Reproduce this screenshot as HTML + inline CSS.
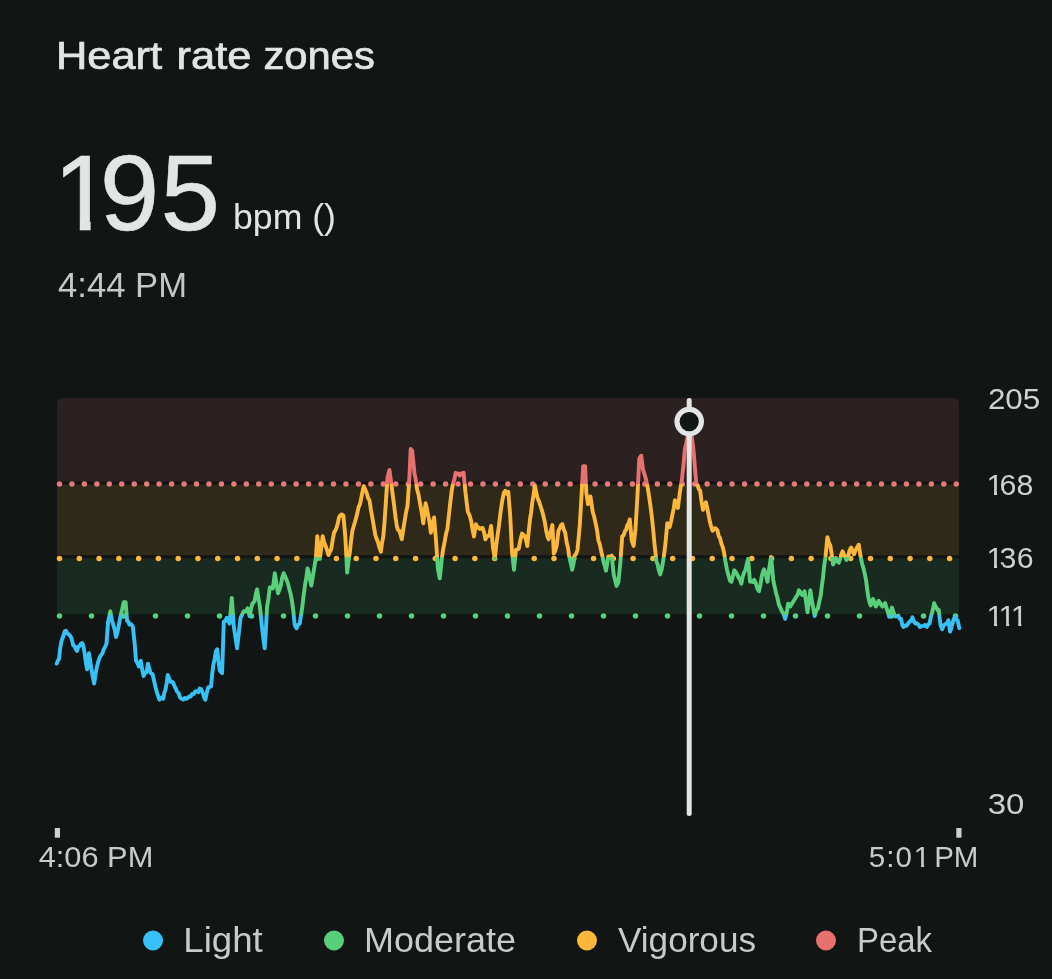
<!DOCTYPE html>
<html><head><meta charset="utf-8"><title>Heart rate zones</title>
<style>
html,body{margin:0;padding:0;background:#111514;}
body{width:1052px;height:979px;overflow:hidden;font-family:"Liberation Sans",sans-serif;}
svg{display:block;position:absolute;left:0;top:0;}
text{font-family:"Liberation Sans",sans-serif;}
</style></head><body>
<svg width="1052" height="979" viewBox="0 0 1052 979">
<defs>
<linearGradient id="zg" gradientUnits="userSpaceOnUse" x1="0" y1="398" x2="0" y2="816">
<stop offset="0" stop-color="#e8706f"/>
<stop offset="0.2057" stop-color="#e8706f"/>
<stop offset="0.2057" stop-color="#fdb73a"/>
<stop offset="0.3804" stop-color="#fdb73a"/>
<stop offset="0.3804" stop-color="#58cf7b"/>
<stop offset="0.5203" stop-color="#58cf7b"/>
<stop offset="0.5203" stop-color="#37c2f7"/>
<stop offset="1" stop-color="#37c2f7"/>
</linearGradient>
<clipPath id="cp"><rect x="57" y="398" width="902" height="240" rx="5.5" ry="5.5"/></clipPath>
<clipPath id="c195"><rect x="0" y="123.30" width="1052" height="97.80"/><rect x="79.78" y="220.10" width="10.84" height="21.40"/><rect x="0.00" y="220.10" width="60.00" height="37.45"/><rect x="108.40" y="220.10" width="943.60" height="37.45"/></clipPath><clipPath id="c168"><rect x="0" y="464.30" width="1052" height="26.33"/><rect x="994.02" y="489.63" width="3.07" height="6.06"/><rect x="0.00" y="489.63" width="987.87" height="10.61"/><rect x="1002.69" y="489.63" width="49.31" height="10.61"/></clipPath><clipPath id="c136"><rect x="0" y="538.10" width="1052" height="26.33"/><rect x="994.02" y="563.43" width="3.07" height="6.06"/><rect x="0.00" y="563.43" width="987.87" height="10.61"/><rect x="1002.69" y="563.43" width="49.31" height="10.61"/></clipPath><clipPath id="c111"><rect x="0" y="596.00" width="1052" height="26.33"/><rect x="994.02" y="621.33" width="3.07" height="6.06"/><rect x="1006.12" y="621.33" width="3.07" height="6.06"/><rect x="1018.22" y="621.33" width="3.07" height="6.06"/><rect x="0.00" y="621.33" width="987.87" height="10.61"/><rect x="1026.89" y="621.33" width="25.11" height="10.61"/></clipPath><clipPath id="c501"><rect x="0" y="837.90" width="1052" height="25.59"/><rect x="921.12" y="862.49" width="3.00" height="5.90"/><rect x="0.00" y="862.49" width="915.11" height="10.32"/><rect x="929.59" y="862.49" width="122.41" height="10.32"/></clipPath></defs>
<rect width="1052" height="979" fill="#111514"/>
<!-- header -->
<text y="69.2" font-size="38.8" fill="#e3e5e4" stroke="#e3e5e4" stroke-width="0.7"><tspan x="55.9" textLength="106.2" lengthAdjust="spacingAndGlyphs">Heart</tspan> <tspan x="176.5" textLength="74.9" lengthAdjust="spacingAndGlyphs">rate</tspan> <tspan x="263.5" textLength="111.4" lengthAdjust="spacingAndGlyphs">zones</tspan></text>
<g font-size="107" fill="#e3e5e4" stroke="#e3e5e4" stroke-width="0.6">
<text x="53.2 99.7 160.4" y="230.3" clip-path="url(#c195)">195</text>
</g>
<text x="233" y="229.2" font-size="35" fill="#e3e5e4" textLength="103" lengthAdjust="spacingAndGlyphs">bpm ()</text>
<text x="58" y="297" font-size="34.5" fill="#c3c7c5" textLength="129" lengthAdjust="spacingAndGlyphs">4:44 PM</text>
<!-- zones -->
<g clip-path="url(#cp)">
<rect x="57" y="398" width="902" height="83.5" fill="#2b2120"/>
<rect x="57" y="484.5" width="902" height="70.8" fill="#2e2918"/>
<rect x="57" y="558.4" width="902" height="55.8" fill="#192b21"/>
</g>
<g fill="#e8787a"><circle cx="59.50" cy="484.1" r="2.75"/><circle cx="71.95" cy="484.1" r="2.75"/><circle cx="84.41" cy="484.1" r="2.75"/><circle cx="96.86" cy="484.1" r="2.75"/><circle cx="109.32" cy="484.1" r="2.75"/><circle cx="121.77" cy="484.1" r="2.75"/><circle cx="134.23" cy="484.1" r="2.75"/><circle cx="146.69" cy="484.1" r="2.75"/><circle cx="159.14" cy="484.1" r="2.75"/><circle cx="171.60" cy="484.1" r="2.75"/><circle cx="184.05" cy="484.1" r="2.75"/><circle cx="196.51" cy="484.1" r="2.75"/><circle cx="208.96" cy="484.1" r="2.75"/><circle cx="221.42" cy="484.1" r="2.75"/><circle cx="233.87" cy="484.1" r="2.75"/><circle cx="246.33" cy="484.1" r="2.75"/><circle cx="258.78" cy="484.1" r="2.75"/><circle cx="271.24" cy="484.1" r="2.75"/><circle cx="283.69" cy="484.1" r="2.75"/><circle cx="296.15" cy="484.1" r="2.75"/><circle cx="308.60" cy="484.1" r="2.75"/><circle cx="321.06" cy="484.1" r="2.75"/><circle cx="333.51" cy="484.1" r="2.75"/><circle cx="345.96" cy="484.1" r="2.75"/><circle cx="358.42" cy="484.1" r="2.75"/><circle cx="370.87" cy="484.1" r="2.75"/><circle cx="383.33" cy="484.1" r="2.75"/><circle cx="395.78" cy="484.1" r="2.75"/><circle cx="408.24" cy="484.1" r="2.75"/><circle cx="420.69" cy="484.1" r="2.75"/><circle cx="433.15" cy="484.1" r="2.75"/><circle cx="445.60" cy="484.1" r="2.75"/><circle cx="458.06" cy="484.1" r="2.75"/><circle cx="470.51" cy="484.1" r="2.75"/><circle cx="482.97" cy="484.1" r="2.75"/><circle cx="495.42" cy="484.1" r="2.75"/><circle cx="507.88" cy="484.1" r="2.75"/><circle cx="520.33" cy="484.1" r="2.75"/><circle cx="532.79" cy="484.1" r="2.75"/><circle cx="545.24" cy="484.1" r="2.75"/><circle cx="557.70" cy="484.1" r="2.75"/><circle cx="570.15" cy="484.1" r="2.75"/><circle cx="582.61" cy="484.1" r="2.75"/><circle cx="595.07" cy="484.1" r="2.75"/><circle cx="607.52" cy="484.1" r="2.75"/><circle cx="619.98" cy="484.1" r="2.75"/><circle cx="632.43" cy="484.1" r="2.75"/><circle cx="644.89" cy="484.1" r="2.75"/><circle cx="657.34" cy="484.1" r="2.75"/><circle cx="669.80" cy="484.1" r="2.75"/><circle cx="682.25" cy="484.1" r="2.75"/><circle cx="694.71" cy="484.1" r="2.75"/><circle cx="707.16" cy="484.1" r="2.75"/><circle cx="719.62" cy="484.1" r="2.75"/><circle cx="732.07" cy="484.1" r="2.75"/><circle cx="744.53" cy="484.1" r="2.75"/><circle cx="756.98" cy="484.1" r="2.75"/><circle cx="769.44" cy="484.1" r="2.75"/><circle cx="781.89" cy="484.1" r="2.75"/><circle cx="794.35" cy="484.1" r="2.75"/><circle cx="806.80" cy="484.1" r="2.75"/><circle cx="819.26" cy="484.1" r="2.75"/><circle cx="831.71" cy="484.1" r="2.75"/><circle cx="844.17" cy="484.1" r="2.75"/><circle cx="856.62" cy="484.1" r="2.75"/><circle cx="869.08" cy="484.1" r="2.75"/><circle cx="881.53" cy="484.1" r="2.75"/><circle cx="893.99" cy="484.1" r="2.75"/><circle cx="906.44" cy="484.1" r="2.75"/><circle cx="918.90" cy="484.1" r="2.75"/><circle cx="931.35" cy="484.1" r="2.75"/><circle cx="943.81" cy="484.1" r="2.75"/><circle cx="956.26" cy="484.1" r="2.75"/></g>
<g fill="#fdb73a"><circle cx="59.50" cy="558.4" r="2.75"/><circle cx="79.28" cy="558.4" r="2.75"/><circle cx="99.06" cy="558.4" r="2.75"/><circle cx="118.84" cy="558.4" r="2.75"/><circle cx="138.62" cy="558.4" r="2.75"/><circle cx="158.40" cy="558.4" r="2.75"/><circle cx="178.18" cy="558.4" r="2.75"/><circle cx="197.96" cy="558.4" r="2.75"/><circle cx="217.74" cy="558.4" r="2.75"/><circle cx="237.52" cy="558.4" r="2.75"/><circle cx="257.30" cy="558.4" r="2.75"/><circle cx="277.08" cy="558.4" r="2.75"/><circle cx="296.86" cy="558.4" r="2.75"/><circle cx="316.64" cy="558.4" r="2.75"/><circle cx="336.42" cy="558.4" r="2.75"/><circle cx="356.20" cy="558.4" r="2.75"/><circle cx="375.98" cy="558.4" r="2.75"/><circle cx="395.76" cy="558.4" r="2.75"/><circle cx="415.54" cy="558.4" r="2.75"/><circle cx="435.32" cy="558.4" r="2.75"/><circle cx="455.10" cy="558.4" r="2.75"/><circle cx="474.88" cy="558.4" r="2.75"/><circle cx="494.66" cy="558.4" r="2.75"/><circle cx="514.44" cy="558.4" r="2.75"/><circle cx="534.22" cy="558.4" r="2.75"/><circle cx="554.00" cy="558.4" r="2.75"/><circle cx="573.78" cy="558.4" r="2.75"/><circle cx="593.56" cy="558.4" r="2.75"/><circle cx="613.34" cy="558.4" r="2.75"/><circle cx="633.12" cy="558.4" r="2.75"/><circle cx="652.90" cy="558.4" r="2.75"/><circle cx="672.68" cy="558.4" r="2.75"/><circle cx="692.46" cy="558.4" r="2.75"/><circle cx="712.24" cy="558.4" r="2.75"/><circle cx="732.02" cy="558.4" r="2.75"/><circle cx="751.80" cy="558.4" r="2.75"/><circle cx="771.58" cy="558.4" r="2.75"/><circle cx="791.36" cy="558.4" r="2.75"/><circle cx="811.14" cy="558.4" r="2.75"/><circle cx="830.92" cy="558.4" r="2.75"/><circle cx="850.70" cy="558.4" r="2.75"/><circle cx="870.48" cy="558.4" r="2.75"/><circle cx="890.26" cy="558.4" r="2.75"/><circle cx="910.04" cy="558.4" r="2.75"/><circle cx="929.82" cy="558.4" r="2.75"/><circle cx="949.60" cy="558.4" r="2.75"/></g>
<g fill="#58cf7b"><circle cx="59.50" cy="616.1" r="2.75"/><circle cx="91.50" cy="616.1" r="2.75"/><circle cx="123.50" cy="616.1" r="2.75"/><circle cx="155.50" cy="616.1" r="2.75"/><circle cx="187.50" cy="616.1" r="2.75"/><circle cx="219.50" cy="616.1" r="2.75"/><circle cx="251.50" cy="616.1" r="2.75"/><circle cx="283.50" cy="616.1" r="2.75"/><circle cx="315.50" cy="616.1" r="2.75"/><circle cx="347.50" cy="616.1" r="2.75"/><circle cx="379.50" cy="616.1" r="2.75"/><circle cx="411.50" cy="616.1" r="2.75"/><circle cx="443.50" cy="616.1" r="2.75"/><circle cx="475.50" cy="616.1" r="2.75"/><circle cx="507.50" cy="616.1" r="2.75"/><circle cx="539.50" cy="616.1" r="2.75"/><circle cx="571.50" cy="616.1" r="2.75"/><circle cx="603.50" cy="616.1" r="2.75"/><circle cx="635.50" cy="616.1" r="2.75"/><circle cx="667.50" cy="616.1" r="2.75"/><circle cx="699.50" cy="616.1" r="2.75"/><circle cx="731.50" cy="616.1" r="2.75"/><circle cx="763.50" cy="616.1" r="2.75"/><circle cx="795.50" cy="616.1" r="2.75"/><circle cx="827.50" cy="616.1" r="2.75"/><circle cx="859.50" cy="616.1" r="2.75"/><circle cx="891.50" cy="616.1" r="2.75"/><circle cx="923.50" cy="616.1" r="2.75"/><circle cx="955.50" cy="616.1" r="2.75"/></g>
<path d="M56.7,663.6 L57.9,660.6 L59.0,658.9 L60.1,649.0 L61.3,641.7 L63.0,637.0 L64.7,631.3 L66.0,630.7 L67.2,633.3 L68.5,634.1 L70.0,635.6 L71.4,638.0 L73.3,645.6 L74.5,645.8 L75.8,649.2 L77.0,651.0 L78.3,646.9 L79.6,645.9 L80.9,643.7 L82.1,643.1 L83.3,645.6 L84.4,651.7 L85.6,660.8 L87.1,669.3 L89.0,653.2 L90.2,660.5 L91.3,668.4 L92.8,677.2 L94.2,683.6 L95.6,673.7 L97.0,666.5 L98.5,660.8 L99.9,657.0 L101.2,654.9 L102.4,653.5 L103.7,649.4 L105.1,646.8 L106.5,643.7 L108.0,622.7 L109.2,616.6 L110.3,611.3 L111.8,619.7 L113.2,624.6 L114.6,629.2 L116.0,637.0 L117.5,632.1 L118.9,624.6 L120.5,616.2 L122.1,609.4 L123.7,602.2 L125.6,602.2 L127.1,620.8 L128.2,621.4 L129.4,624.6 L131.1,624.2 L132.8,626.5 L134.7,643.7 L136.0,660.8 L137.4,663.0 L138.9,666.5 L140.8,660.8 L142.2,669.5 L143.6,676.0 L145.1,673.0 L146.5,672.2 L148.0,663.6 L149.2,668.2 L150.3,672.2 L151.4,673.6 L152.5,674.0 L154.2,681.2 L156.0,689.3 L157.7,694.7 L159.4,699.7 L160.7,697.8 L161.9,697.5 L163.2,698.8 L164.3,693.0 L165.5,689.3 L166.7,682.8 L167.8,675.0 L169.0,678.1 L170.2,681.7 L171.6,681.5 L173.1,682.6 L174.4,685.8 L175.6,688.2 L176.9,691.2 L178.5,693.0 L180.0,697.3 L181.6,698.8 L183.2,699.5 L184.8,697.9 L186.4,698.8 L187.8,697.9 L189.2,696.5 L190.7,696.6 L192.1,694.0 L193.7,693.9 L195.2,691.4 L196.8,691.2 L198.3,692.3 L199.7,688.6 L201.2,689.3 L202.6,692.5 L204.0,697.2 L205.4,699.7 L206.9,692.3 L208.3,687.4 L209.7,686.9 L211.1,686.4 L212.2,673.8 L213.4,664.6 L214.7,658.6 L215.9,651.3 L217.2,649.4 L218.4,660.8 L219.7,670.3 L220.9,672.0 L222.1,673.1 L223.8,621.7 L225.2,621.2 L226.7,617.9 L228.1,620.1 L229.5,623.6 L230.7,611.5 L231.8,597.9 L233.7,625.5 L235.4,637.2 L237.1,648.3 L238.8,633.4 L240.5,617.9 L242.2,614.4 L243.8,611.2 L245.1,611.5 L246.3,610.9 L247.6,608.4 L249.5,616.0 L250.9,609.7 L252.3,603.6 L253.4,602.8 L254.6,600.8 L255.9,593.5 L257.1,589.4 L258.5,598.7 L259.9,606.5 L261.8,625.5 L263.2,637.4 L264.7,648.3 L265.9,629.2 L267.1,606.5 L268.5,598.2 L269.8,587.5 L271.4,587.2 L272.9,588.4 L274.8,573.2 L276.4,582.8 L278.0,593.2 L279.4,590.0 L280.8,585.6 L282.2,577.7 L283.7,573.2 L285.1,576.4 L286.5,579.8 L287.9,583.4 L289.4,589.4 L290.8,594.7 L292.2,602.7 L293.4,611.6 L294.5,623.6 L295.6,626.9 L296.6,628.3 L298.2,624.6 L299.8,623.6 L301.0,615.1 L302.1,608.4 L303.6,595.7 L305.2,583.7 L306.4,577.4 L307.5,568.4 L308.8,572.6 L310.0,579.7 L311.3,585.6 L313.2,574.1 L314.6,565.7 L316.0,557.0 L317.3,536.1 L318.6,548.9 L319.8,558.9 L321.2,548.6 L322.7,536.1 L324.1,542.2 L325.5,545.6 L326.9,549.6 L328.4,555.1 L329.8,551.9 L331.2,549.4 L332.6,540.3 L334.1,532.3 L335.4,530.5 L336.6,527.6 L337.9,522.8 L338.9,517.9 L340.0,515.6 L341.7,514.4 L343.4,515.6 L345.3,536.5 L347.2,572.6 L348.5,561.2 L349.9,551.7 L351.1,540.3 L352.4,530.8 L353.7,526.3 L354.9,522.3 L356.2,517.5 L357.5,512.2 L358.7,506.8 L360.0,504.1 L361.3,497.8 L362.5,491.6 L363.8,486.1 L365.2,489.6 L366.6,492.7 L368.1,498.1 L369.5,500.3 L370.9,509.6 L372.3,517.5 L373.8,526.1 L375.2,534.6 L376.6,538.8 L378.0,542.2 L379.4,547.6 L380.9,551.7 L382.1,542.5 L383.3,536.5 L384.5,522.7 L385.6,506.0 L387.5,477.5 L389.4,469.9 L391.3,483.2 L392.8,495.6 L394.2,506.0 L395.6,517.8 L397.0,527.0 L398.1,530.0 L399.3,530.8 L400.6,534.7 L401.8,539.3 L403.2,529.9 L404.6,521.3 L406.1,512.2 L407.5,506.0 L409.4,477.5 L410.7,449.0 L412.2,450.9 L413.4,462.8 L414.5,473.7 L415.8,479.7 L417.0,488.9 L418.4,494.0 L419.8,502.2 L421.6,511.7 L423.3,523.2 L424.5,512.0 L425.6,503.2 L426.7,507.9 L427.8,513.7 L429.4,521.6 L430.9,532.7 L432.5,523.3 L434.1,517.5 L436.0,540.3 L437.9,568.8 L439.8,578.3 L441.7,559.3 L443.1,549.5 L444.6,542.2 L446.0,534.1 L447.4,528.9 L448.9,515.1 L450.3,502.2 L451.7,491.0 L453.1,483.2 L454.4,479.3 L455.6,472.8 L457.0,474.1 L458.4,473.4 L459.8,475.6 L461.1,473.8 L462.3,473.2 L463.6,472.8 L465.5,492.7 L466.6,501.7 L467.8,511.7 L469.5,515.1 L471.2,521.3 L472.6,530.2 L474.0,536.5 L475.9,524.1 L477.2,527.5 L478.4,527.2 L479.7,528.9 L481.1,528.3 L482.6,527.9 L484.0,532.1 L485.4,539.3 L486.7,536.6 L487.9,536.2 L489.2,535.5 L491.1,526.0 L493.0,547.9 L494.9,558.3 L496.1,546.6 L497.4,536.5 L499.0,525.3 L500.6,511.7 L502.2,501.0 L503.9,492.7 L505.4,490.7 L506.8,493.7 L508.3,491.8 L510.2,515.6 L512.0,551.7 L514.0,569.7 L515.9,549.8 L517.3,549.4 L518.7,548.8 L520.4,539.9 L522.1,533.6 L523.2,534.7 L524.4,535.5 L525.8,539.0 L527.3,546.0 L528.6,532.8 L530.0,519.4 L531.1,512.5 L532.3,502.2 L533.5,495.0 L534.8,485.1 L536.2,492.5 L537.6,498.4 L539.0,501.3 L540.5,506.0 L541.9,510.3 L543.3,515.6 L544.8,522.0 L546.2,530.8 L547.4,536.0 L548.6,539.3 L549.8,535.2 L550.9,530.8 L552.4,525.1 L553.8,553.6 L555.2,550.8 L556.6,546.0 L558.5,530.8 L559.8,528.0 L561.0,525.3 L562.3,524.1 L563.8,529.5 L565.2,532.7 L566.6,542.0 L568.0,547.9 L569.1,555.8 L570.3,561.2 L572.2,569.7 L573.5,563.7 L574.7,555.5 L576.1,553.8 L577.5,549.8 L578.6,538.3 L579.8,525.1 L581.7,492.7 L583.2,466.1 L585.1,466.1 L586.3,492.7 L588.0,504.1 L589.2,499.3 L590.5,496.5 L591.6,504.2 L592.7,511.7 L594.2,516.9 L595.6,523.2 L597.0,530.1 L598.4,540.3 L599.8,544.3 L601.3,551.7 L602.5,556.6 L603.8,563.1 L604.9,566.0 L606.0,570.7 L607.1,564.2 L608.3,556.4 L610.0,557.6 L611.7,555.5 L613.7,574.5 L615.1,580.0 L616.5,585.9 L618.4,582.1 L620.3,563.1 L622.2,536.5 L623.7,535.2 L625.1,530.8 L626.2,529.7 L627.3,525.1 L628.5,523.9 L629.8,519.4 L631.7,540.3 L633.6,546.0 L635.5,528.9 L637.4,496.5 L639.3,458.5 L641.2,455.7 L643.1,469.9 L644.5,474.2 L646.0,479.4 L647.4,486.0 L648.8,494.6 L650.2,504.1 L651.7,515.6 L653.1,528.8 L654.5,544.1 L656.4,561.2 L657.7,564.6 L658.9,570.5 L660.2,574.5 L661.7,569.3 L663.1,561.2 L664.2,553.9 L665.4,544.1 L667.3,523.2 L668.5,525.0 L669.7,527.0 L671.2,520.9 L672.6,513.7 L673.8,508.1 L674.9,500.3 L676.4,502.6 L677.9,507.9 L679.8,492.7 L681.0,485.7 L682.1,477.5 L683.5,464.7 L684.9,449.0 L686.3,443.4 L687.8,435.7 L689.1,436.6 L690.3,435.6 L691.6,435.7 L692.8,444.0 L693.9,454.7 L695.1,470.0 L696.3,483.2 L697.6,485.1 L698.9,489.3 L700.2,490.8 L701.6,502.0 L703.0,509.8 L704.5,505.6 L705.9,502.2 L707.3,508.5 L708.7,515.6 L710.0,522.3 L711.2,526.5 L712.5,530.8 L713.8,529.0 L715.0,528.2 L716.3,528.9 L717.5,530.7 L718.8,536.4 L720.0,538.0 L721.5,543.9 L722.9,547.5 L724.1,552.9 L725.3,560.8 L727.0,569.6 L728.6,576.0 L730.0,580.6 L731.4,581.7 L732.8,576.6 L734.3,570.3 L735.9,572.2 L737.5,575.1 L738.8,578.1 L740.0,579.5 L741.3,583.7 L742.8,576.2 L744.3,572.2 L745.6,569.5 L746.8,563.9 L748.1,558.9 L750.0,581.7 L751.4,581.2 L752.8,582.0 L754.2,579.8 L755.8,583.4 L757.4,588.8 L759.0,591.3 L760.4,584.8 L761.8,576.0 L763.0,571.7 L764.1,569.4 L765.8,574.7 L767.5,581.7 L769.2,568.6 L771.0,557.0 L772.1,567.5 L773.2,579.8 L774.7,586.8 L776.1,593.2 L777.5,598.0 L778.9,604.6 L780.3,607.6 L781.8,611.2 L783.5,613.7 L785.2,618.8 L786.7,612.7 L788.1,603.6 L789.2,604.5 L790.3,606.5 L791.8,603.9 L793.2,601.7 L794.6,599.7 L796.0,597.0 L797.5,595.1 L798.9,590.3 L800.5,592.4 L802.1,595.1 L803.4,594.7 L804.6,591.3 L806.0,601.8 L807.5,612.2 L808.9,601.4 L810.3,590.3 L812.2,602.7 L813.5,609.4 L814.7,616.0 L816.3,610.5 L817.9,608.4 L819.3,601.5 L820.8,595.1 L821.9,585.4 L823.0,577.9 L824.2,565.7 L825.5,557.0 L827.4,537.1 L828.8,542.4 L830.3,545.6 L831.7,553.9 L833.1,564.6 L834.5,561.2 L836.0,558.0 L837.4,561.2 L838.8,562.7 L840.1,559.1 L841.3,554.5 L842.6,551.3 L843.9,554.2 L845.1,557.2 L846.4,559.9 L848.0,556.8 L849.6,550.2 L851.2,547.5 L852.6,551.1 L854.0,554.2 L855.6,550.1 L857.2,547.1 L858.8,544.7 L860.7,557.0 L862.1,563.7 L863.5,568.4 L864.8,574.1 L866.0,579.8 L867.1,588.6 L868.3,597.0 L869.5,602.2 L870.6,605.5 L871.8,603.7 L873.0,598.9 L874.5,602.5 L875.9,606.5 L877.3,604.1 L878.7,600.8 L879.9,602.7 L881.1,604.6 L882.3,606.5 L883.7,605.5 L885.1,603.1 L886.8,608.8 L888.0,612.6 L889.1,616.8 L890.5,612.3 L892.0,607.6 L893.1,611.0 L894.3,614.5 L895.6,616.5 L897.0,616.0 L898.3,615.6 L899.7,618.7 L901.1,619.0 L902.2,624.6 L903.4,627.0 L904.8,625.6 L906.2,625.9 L908.0,623.8 L909.7,621.3 L911.1,620.9 L912.5,617.3 L914.0,621.7 L915.4,623.6 L916.9,623.4 L918.4,624.5 L919.9,627.0 L921.6,626.2 L923.3,625.9 L925.0,624.9 L926.8,627.0 L928.2,624.4 L929.6,623.6 L930.8,616.9 L931.9,613.3 L933.0,608.8 L934.2,603.1 L935.4,606.4 L936.5,607.6 L937.6,610.2 L938.7,609.9 L940.5,624.8 L942.2,629.3 L943.3,625.8 L944.4,624.8 L946.2,623.6 L947.3,622.7 L948.4,620.2 L950.1,631.6 L951.2,628.2 L952.4,623.6 L953.8,618.9 L955.3,616.8 L956.5,619.9 L957.6,620.2 L959.3,628.2" fill="none" stroke="url(#zg)" stroke-width="3.9" stroke-linejoin="round" stroke-linecap="round"/>
<!-- cursor -->
<line x1="689.2" y1="400.5" x2="689.2" y2="813.6" stroke="#e4e6e5" stroke-width="5" stroke-linecap="round"/>
<circle cx="689.2" cy="421.6" r="12.2" fill="#111514" stroke="#e4e6e5" stroke-width="5.2"/>
<!-- y labels -->
<g font-size="30.3" fill="#cdd1cf">
<text x="987.9" y="409.2" textLength="52.3" lengthAdjust="spacingAndGlyphs">205</text>
<text x="986.5 999.6 1016.6" y="494.6" clip-path="url(#c168)">168</text>
<text x="986.5 999.6 1016.7" y="568.4" clip-path="url(#c136)">136</text>
<text x="986.5 998.6 1010.7" y="626.3" clip-path="url(#c111)">111</text>
<text x="987.8" y="814.3" textLength="36.6" lengthAdjust="spacingAndGlyphs">30</text>
</g>
<!-- x axis -->
<rect x="54.8" y="828" width="5.2" height="9.7" fill="#cdd1cf"/>
<rect x="956.3" y="828" width="5.2" height="9.7" fill="#cdd1cf"/>
<g font-size="29.5" fill="#c8cbc9">
<text x="38.7" y="867.4" textLength="114.6" lengthAdjust="spacingAndGlyphs">4:06 PM</text>
<text x="868.8 886.3 895.6 913.8 928.5 934.2 953.8" y="867.4" clip-path="url(#c501)">5:01 PM</text>
</g>
<!-- legend -->
<circle cx="153" cy="940.5" r="10" fill="#37c2f7"/>
<circle cx="334" cy="940.5" r="10" fill="#58cf7b"/>
<circle cx="587" cy="940.5" r="10" fill="#fdb73a"/>
<circle cx="826" cy="940.5" r="10" fill="#e8706f"/>
<g font-size="35" fill="#c8cbc9">
<text x="183.3" y="952" textLength="79.5" lengthAdjust="spacingAndGlyphs">Light</text>
<text x="364" y="952" textLength="152" lengthAdjust="spacingAndGlyphs">Moderate</text>
<text x="618" y="952" textLength="138" lengthAdjust="spacingAndGlyphs">Vigorous</text>
<text x="857" y="952" textLength="75" lengthAdjust="spacingAndGlyphs">Peak</text>
</g>
</svg>
</body></html>
